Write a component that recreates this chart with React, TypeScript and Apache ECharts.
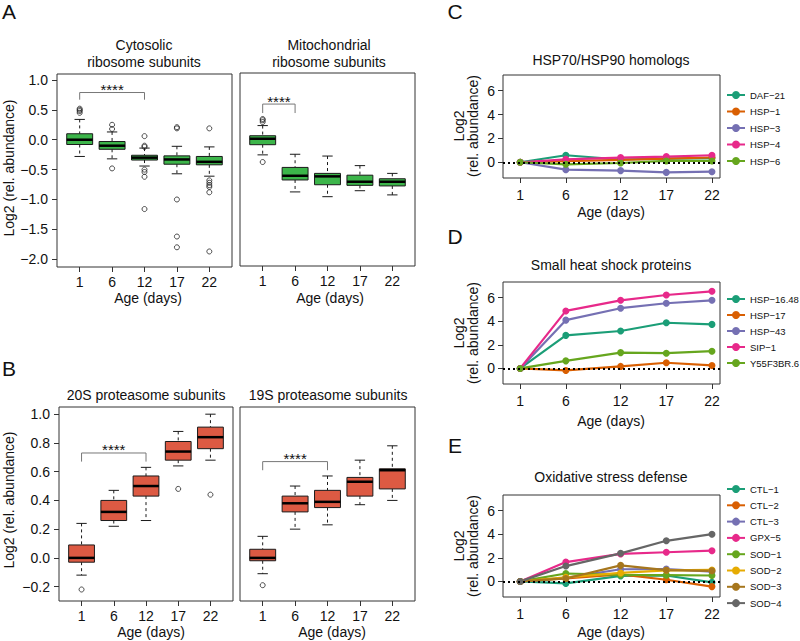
import React, { useEffect, useRef } from "react";
import * as echarts from "echarts";

const FONT = '"Liberation Sans", Arial, Helvetica, sans-serif';

// ---------- Data ----------
const days = ["1", "6", "12", "17", "22"];
const dayValues = [1, 6, 12, 17, 22];

// box stats per day: [lower whisker, Q1, median, Q3, upper whisker]
const cytoStats = [
  [-0.28, -0.08, 0.0, 0.1, 0.34],
  [-0.32, -0.16, -0.1, -0.03, 0.13],
  [-0.44, -0.34, -0.3, -0.26, -0.14],
  [-0.57, -0.41, -0.33, -0.27, -0.11],
  [-0.61, -0.42, -0.37, -0.28, -0.12],
];
const cytoOutliers = [
  [0.52, 0.5, 0.48, 0.45],
  [0.25, 0.18, -0.48],
  [0.06, -0.1, -0.12, -0.5, -0.54, -0.62, -1.16],
  [0.21, 0.19, -1.0, -1.62, -1.8],
  [0.19, -0.68, -0.72, -0.76, -0.79, -0.88, -1.87],
];
const mitoStats = [
  [-0.27, -0.1, 0.0, 0.05, 0.22],
  [-0.89, -0.69, -0.62, -0.48, -0.26],
  [-0.97, -0.77, -0.63, -0.58, -0.29],
  [-0.87, -0.78, -0.72, -0.61, -0.45],
  [-0.94, -0.79, -0.72, -0.67, -0.58],
];
const mitoOutliers = [[0.33, 0.31, 0.28, -0.39], [], [], [], []];

const p20Stats = [
  [-0.12, -0.03, 0.0, 0.09, 0.24],
  [0.22, 0.26, 0.32, 0.4, 0.47],
  [0.26, 0.43, 0.5, 0.57, 0.63],
  [0.64, 0.68, 0.74, 0.81, 0.88],
  [0.68, 0.76, 0.84, 0.91, 1.0],
];
const p20Outliers = [[-0.22], [], [], [0.48], [0.44]];
const p19Stats = [
  [-0.11, -0.02, 0.0, 0.06, 0.15],
  [0.2, 0.32, 0.38, 0.43, 0.5],
  [0.23, 0.35, 0.39, 0.47, 0.57],
  [0.37, 0.43, 0.53, 0.56, 0.68],
  [0.4, 0.48, 0.61, 0.62, 0.78],
];
const p19Outliers = [[-0.19], [], [], [], []];

// significance brackets: [from category, to category, top, bottom]
const sigCyto = [1, 3, 0.79, 0.67];
const sigMito = [1, 2, 0.58, 0.43];
const sig20 = [1, 3, 0.73, 0.67];
const sig19 = [1, 3, 0.67, 0.61];

const aTicks = [-2, -1.5, -1, -0.5, 0, 0.5, 1];
const bTicks = [-0.2, 0, 0.2, 0.4, 0.6, 0.8, 1.0];
const lineTicks = [0, 2, 4, 6];

const dark2 = ["#1B9E77", "#D95F02", "#7570B3", "#E7298A", "#66A61E", "#E6AB02", "#A6761D", "#666666"];

const hspNames = ["DAF−21", "HSP−1", "HSP−3", "HSP−4", "HSP−6"];
const hspValues = [
  [0, 0.59, 0.23, 0.3, 0.35],
  [0, 0.1, 0.2, 0.3, 0.4],
  [0, -0.62, -0.7, -0.85, -0.79],
  [0, 0.25, 0.39, 0.48, 0.59],
  [0, -0.17, -0.06, 0.11, 0.11],
];
const shspNames = ["HSP−16.48", "HSP−17", "HSP−43", "SIP−1", "Y55F3BR.6"];
const shspValues = [
  [0, 2.8, 3.17, 3.87, 3.73],
  [0, -0.17, 0.17, 0.48, 0.25],
  [0, 4.09, 5.1, 5.52, 5.77],
  [0, 4.87, 5.77, 6.22, 6.53],
  [0, 0.64, 1.34, 1.29, 1.46],
];
const oxNames = ["CTL−1", "CTL−2", "CTL−3", "GPX−5", "SOD−1", "SOD−2", "SOD−3", "SOD−4"];
const oxValues = [
  [0, -0.17, 0.47, 0.5, -0.08],
  [0, 0.25, 0.6, 0.14, -0.44],
  [0, 0.3, 1.03, 1.05, 0.83],
  [0, 1.64, 2.33, 2.47, 2.6],
  [0, 0.67, 0.55, 0.53, 0.5],
  [0, 0.35, 0.72, 0.94, 0.97],
  [0, 0.25, 1.36, 0.95, 0.9],
  [0, 1.3, 2.38, 3.44, 4.0],
];

// ---------- helpers ----------
const minus = (s: string) => s.replace("-", "−");
const GREEN = "#3cb54a";
const RED = "#dd5a43";

function boxRenderer(fill: string) {
  return (_params: any, api: any) => {
    const x = api.value(0);
    const lo = api.coord([x, api.value(1)]);
    const q1 = api.coord([x, api.value(2)]);
    const med = api.coord([x, api.value(3)]);
    const q3 = api.coord([x, api.value(4)]);
    const hi = api.coord([x, api.value(5)]);
    const half = api.size([0.4, 0])[0];
    const staple = api.size([0.16, 0])[0];
    const cx = med[0];
    const stroke = "#1a1a1a";
    return {
      type: "group",
      children: [
        { type: "line", shape: { x1: cx, y1: hi[1], x2: cx, y2: q3[1] }, style: { stroke, lineWidth: 1, lineDash: [3, 3] } },
        { type: "line", shape: { x1: cx, y1: q1[1], x2: cx, y2: lo[1] }, style: { stroke, lineWidth: 1, lineDash: [3, 3] } },
        { type: "line", shape: { x1: cx - staple, y1: hi[1], x2: cx + staple, y2: hi[1] }, style: { stroke, lineWidth: 1 } },
        { type: "line", shape: { x1: cx - staple, y1: lo[1], x2: cx + staple, y2: lo[1] }, style: { stroke, lineWidth: 1 } },
        { type: "rect", shape: { x: cx - half, y: q3[1], width: half * 2, height: q1[1] - q3[1] }, style: { fill, stroke, lineWidth: 1 } },
        { type: "line", shape: { x1: cx - half, y1: med[1], x2: cx + half, y2: med[1] }, style: { stroke: "#000", lineWidth: 2.5 } },
      ],
    };
  };
}

function bracketRenderer(_params: any, api: any) {
  const a = api.coord([api.value(0), api.value(3)]);
  const b = api.coord([api.value(0), api.value(2)]);
  const c = api.coord([api.value(1), api.value(2)]);
  const d = api.coord([api.value(1), api.value(3)]);
  return {
    type: "group",
    children: [
      { type: "polyline", shape: { points: [a, b, c, d] }, style: { stroke: "#777", lineWidth: 1, fill: null } },
      {
        type: "text",
        style: { text: "****", x: (b[0] + c[0]) / 2, y: b[1] - 3, align: "center", verticalAlign: "middle", fontSize: 15, fontFamily: FONT, fill: "#111" },
      },
    ],
  };
}

function boxSeries(idx: number, stats: number[][], outliers: number[][], sig: number[], fill: string) {
  return [
    {
      type: "custom",
      xAxisIndex: idx,
      yAxisIndex: idx,
      renderItem: boxRenderer(fill),
      encode: { x: 0, y: [1, 2, 3, 4, 5] },
      data: stats.map((s, i) => [i + 1, ...s]),
      clip: false,
      silent: true,
    },
    {
      type: "scatter",
      xAxisIndex: idx,
      yAxisIndex: idx,
      symbol: "circle",
      symbolSize: 5,
      itemStyle: { color: "rgba(255,255,255,0)", borderColor: "#222", borderWidth: 1 },
      data: outliers.flatMap((arr, i) => arr.map((v) => [i + 1, v])),
      silent: true,
      z: 3,
    },
    {
      type: "custom",
      xAxisIndex: idx,
      yAxisIndex: idx,
      renderItem: bracketRenderer,
      encode: { x: [0, 1], y: [2, 3] },
      data: [sig],
      clip: false,
      silent: true,
    },
  ];
}

function lineSeries(idx: number, names: string[], values: number[][]) {
  return names.map((name, k) => ({
    type: "line",
    name,
    xAxisIndex: idx,
    yAxisIndex: idx,
    data: dayValues.map((d, i) => [d, values[k][i]]),
    symbol: "circle",
    symbolSize: 7,
    lineStyle: { width: 2.2, color: dark2[k] },
    itemStyle: { color: dark2[k] },
    silent: true,
    ...(k === names.length - 1
      ? {
          markLine: {
            silent: true,
            symbol: ["none", "none"],
            label: { show: false },
            lineStyle: { type: [2, 3], color: "#000", width: 2 },
            data: [{ yAxis: 0 }],
          },
        }
      : {}),
  }));
}

const tickStyle = { show: true, length: 5, lineStyle: { color: "#333", width: 1 } };
const labelBase = { fontSize: 14, fontFamily: FONT, color: "#111" };
const noLine = { show: false, onZero: false };

function boxXAxis(idx: number) {
  return {
    type: "value",
    gridIndex: idx,
    min: 0.3,
    max: 5.7,
    axisLine: noLine,
    splitLine: { show: false },
    axisTick: { ...tickStyle, customValues: [1, 2, 3, 4, 5] },
    axisLabel: { ...labelBase, margin: 8, customValues: [1, 2, 3, 4, 5], formatter: (v: number) => days[Math.round(v) - 1] ?? "" },
  };
}
function boxYAxis(idx: number, min: number, max: number, ticks: number[] | null) {
  if (!ticks) return { type: "value", gridIndex: idx, min, max, show: false, axisLine: noLine, splitLine: { show: false } };
  return {
    type: "value",
    gridIndex: idx,
    min,
    max,
    axisLine: noLine,
    splitLine: { show: false },
    axisTick: { ...tickStyle, customValues: ticks },
    axisLabel: { ...labelBase, margin: 9, customValues: ticks, formatter: (v: number) => minus(v.toFixed(1)) },
  };
}
function lineXAxis(idx: number) {
  return {
    type: "value",
    gridIndex: idx,
    min: -0.88,
    max: 22.88,
    axisLine: noLine,
    splitLine: { show: false },
    axisTick: { ...tickStyle, customValues: dayValues },
    axisLabel: { ...labelBase, margin: 10, customValues: dayValues, formatter: (v: number) => String(v) },
  };
}
function lineYAxis(idx: number) {
  return {
    type: "value",
    gridIndex: idx,
    min: -1.32,
    max: 7.32,
    axisLine: noLine,
    splitLine: { show: false },
    axisTick: { ...tickStyle, customValues: lineTicks },
    axisLabel: { ...labelBase, margin: 8, customValues: lineTicks, formatter: (v: number) => String(v) },
  };
}

function txt(text: string, x: number, y: number, fontSize = 14, rotation = 0) {
  return {
    type: "text",
    x,
    y,
    rotation,
    silent: true,
    style: { text, x: 0, y: 0, align: "center", verticalAlign: "middle", fontSize, fontFamily: FONT, fill: "#111" },
  };
}

function legend(names: string[], top: number, gap: number) {
  return {
    data: names,
    orient: "vertical",
    left: 726,
    top,
    itemWidth: 18,
    itemHeight: 10,
    itemGap: gap,
    selectedMode: false,
    padding: 0,
    textStyle: { fontSize: 9.5, fontFamily: FONT, color: "#111" },
  };
}

export default function App() {
  const ref = useRef<HTMLDivElement>(null);
  useEffect(() => {
    if (!ref.current) return;
    const chart = echarts.init(ref.current, undefined, { renderer: "svg" });
    const gridBase = { show: true, borderColor: "#333", borderWidth: 1, backgroundColor: "transparent", containLabel: false };
    const grids = [
      { left: 57, top: 74, width: 175, height: 193 },
      { left: 240, top: 73, width: 175, height: 193 },
      { left: 59, top: 407, width: 174, height: 194 },
      { left: 240, top: 407, width: 175, height: 194 },
      { left: 503, top: 75, width: 217, height: 103 },
      { left: 503, top: 282, width: 217, height: 102 },
      { left: 503, top: 495, width: 217, height: 102 },
    ].map((g) => ({ ...gridBase, ...g }));

    const option: any = {
      animation: false,
      grid: grids,
      xAxis: [boxXAxis(0), boxXAxis(1), boxXAxis(2), boxXAxis(3), lineXAxis(4), lineXAxis(5), lineXAxis(6)],
      yAxis: [
        boxYAxis(0, -2.13, 1.1, aTicks),
        boxYAxis(1, -2.13, 1.1, null),
        boxYAxis(2, -0.3, 1.05, bTicks),
        boxYAxis(3, -0.3, 1.05, null),
        lineYAxis(4),
        lineYAxis(5),
        lineYAxis(6),
      ],
      legend: [legend(hspNames, 90, 6.5), legend(shspNames, 294, 6), legend(oxNames, 484, 6.3)],
      series: [
        ...boxSeries(0, cytoStats, cytoOutliers, sigCyto, GREEN),
        ...boxSeries(1, mitoStats, mitoOutliers, sigMito, GREEN),
        ...boxSeries(2, p20Stats, p20Outliers, sig20, RED),
        ...boxSeries(3, p19Stats, p19Outliers, sig19, RED),
        ...lineSeries(4, hspNames, hspValues),
        ...lineSeries(5, shspNames, shspValues),
        ...lineSeries(6, oxNames, oxValues),
      ],
      graphic: [
        txt("A", 9, 11, 21),
        txt("B", 9, 368, 21),
        txt("C", 455, 11, 21),
        txt("D", 455, 236, 21),
        txt("E", 455, 445, 21),
        txt("Cytosolic", 144, 45),
        txt("ribosome subunits", 144, 62),
        txt("Mitochondrial", 329, 45),
        txt("ribosome subunits", 329, 62),
        txt("20S proteasome subunits", 146, 395),
        txt("19S proteasome subunits", 328, 395),
        txt("HSP70/HSP90 homologs", 611, 60),
        txt("Small heat shock proteins", 611, 265),
        txt("Oxidative stress defense", 611, 477),
        txt("Age (days)", 148, 298),
        txt("Age (days)", 330, 298),
        txt("Age (days)", 151, 632),
        txt("Age (days)", 332, 632),
        txt("Age (days)", 611, 212),
        txt("Age (days)", 611, 421),
        txt("Age (days)", 611, 632),
        txt("Log2 (rel. abundance)", 9, 168, 14, Math.PI / 2),
        txt("Log2 (rel. abundance)", 9, 500, 14, Math.PI / 2),
        txt("Log2", 459, 126, 14, Math.PI / 2),
        txt("(rel. abundance)", 473, 126, 14, Math.PI / 2),
        txt("Log2", 459, 333, 14, Math.PI / 2),
        txt("(rel. abundance)", 473, 333, 14, Math.PI / 2),
        txt("Log2", 459, 546, 14, Math.PI / 2),
        txt("(rel. abundance)", 473, 546, 14, Math.PI / 2),
      ],
    };
    chart.setOption(option);
    return () => chart.dispose();
  }, []);
  return <div ref={ref} style={{ position: "absolute", left: 0, top: 0, width: 800, height: 641, background: "#fff" }} />;
}
